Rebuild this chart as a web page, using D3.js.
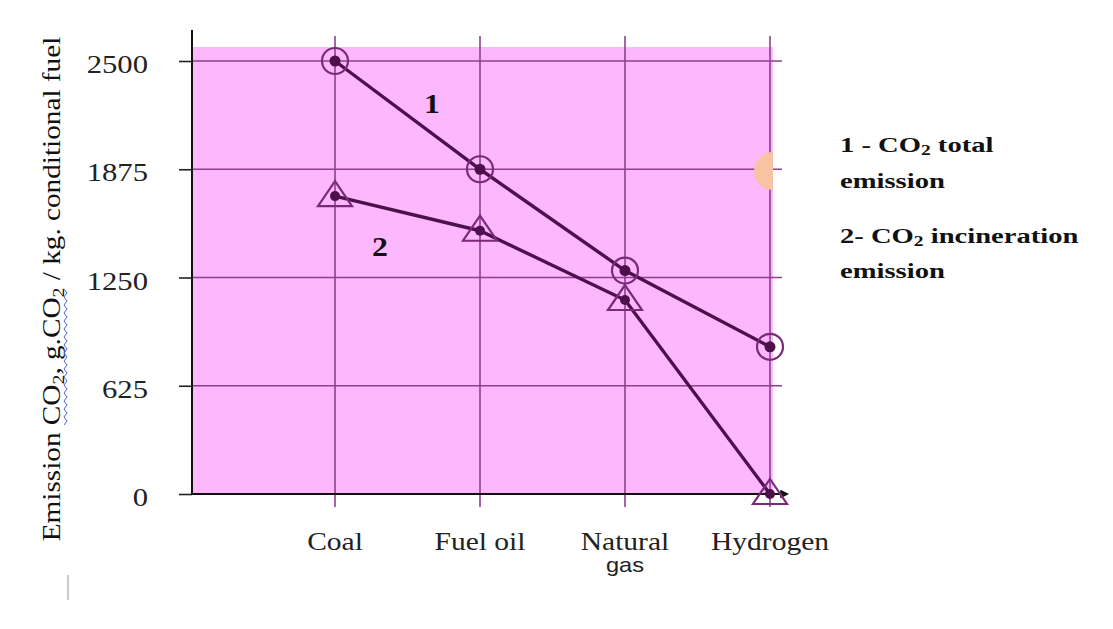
<!DOCTYPE html>
<html><head><meta charset="utf-8">
<script src="https://cdn.jsdelivr.net/npm/d3@7"></script>
<style>body{margin:0;background:#fff}svg{display:block}</style>
</head><body>
<svg id="c" width="1113" height="629"></svg>
<script>
const categories = ["Coal", "Fuel oil", "Natural gas", "Hydrogen"];
const totalEmission = [2500, 1875, 1290, 850];
const incinerationEmission = [1720, 1520, 1120, 0];
const yTicks = [0, 625, 1250, 1875, 2500];

const svg = d3.select("#c");
const serif = "'Liberation Serif', 'DejaVu Serif', serif";
const x = d3.scalePoint().domain(categories).range([335, 770]);
const y = d3.scaleLinear().domain([0, 2500]).range([494, 61]);

const gridCol = "#8e3f8e", lineCol = "#4e104c", markCol = "#7a2a78";
const SX = 1.18;

// pink plot area
svg.append("rect").attr("x", 192).attr("y", 47).attr("width", 581).attr("height", y(0) - 47).attr("fill", "#fdb7fd");

// horizontal grid
svg.append("g").selectAll("line").data(yTicks.filter(d => d > 0)).join("line")
  .attr("x1", 192).attr("x2", 782).attr("y1", d => y(d)).attr("y2", d => y(d))
  .attr("stroke", gridCol).attr("stroke-width", 1.6);
// vertical grid
svg.append("g").selectAll("line").data(categories).join("line")
  .attr("x1", d => x(d)).attr("x2", d => x(d)).attr("y1", 36).attr("y2", 507)
  .attr("stroke", gridCol).attr("stroke-width", 1.6);

// y axis
const yAxis = d3.axisLeft(y).tickValues(yTicks).tickSize(13).tickFormat(d3.format("d"));
const gy = svg.append("g").attr("transform", "translate(192,0)").call(yAxis);
gy.select(".domain").attr("d", "M0,30V494").attr("stroke", "#111").attr("stroke-width", 2);
gy.selectAll(".tick line").attr("stroke", "#222").attr("stroke-width", 1.6);
gy.selectAll(".tick text").attr("x", 0).attr("dy", "0.45em")
  .attr("transform", `translate(-44,0) scale(${SX},1)`)
  .attr("font-family", serif).attr("font-size", 26).attr("fill", "#222");

// x axis line with arrow
svg.append("defs").append("marker").attr("id", "arr").attr("viewBox", "0 0 10 10").attr("refX", 2).attr("refY", 5)
  .attr("markerWidth", 4).attr("markerHeight", 4).attr("orient", "auto")
  .append("path").attr("d", "M0,0L10,5L0,10z").attr("fill", "#111");
svg.append("line").attr("x1", 191).attr("x2", 782).attr("y1", y(0)).attr("y2", y(0))
  .attr("stroke", "#111").attr("stroke-width", 2.2).attr("marker-end", "url(#arr)");

// x labels
svg.append("g").selectAll("text").data(categories).join("text")
  .attr("transform", d => `translate(${x(d)},550) scale(${SX},1)`).attr("text-anchor", "middle")
  .attr("font-family", serif).attr("font-size", 25).attr("fill", "#222")
  .each(function(d) {
    const parts = d === "Natural gas" ? ["Natural", "gas"] : [d];
    d3.select(this).selectAll("tspan").data(parts).join("tspan")
      .attr("x", 0).attr("dy", (p, i) => i ? 22 : 0)
      .attr("font-family", (p, i) => i ? "'Liberation Sans', sans-serif" : serif)
      .attr("font-size", (p, i) => i ? 20 : 25).text(p => p);
  });

// lines
const line = d3.line().x((d, i) => x(categories[i])).y(d => y(d));
svg.append("path").attr("d", line(totalEmission)).attr("fill", "none").attr("stroke", lineCol).attr("stroke-width", 3.4);
svg.append("path").attr("d", line(incinerationEmission)).attr("fill", "none").attr("stroke", lineCol).attr("stroke-width", 3.4);

// markers series 1: circles
const m1 = svg.append("g").selectAll("g").data(totalEmission).join("g")
  .attr("transform", (d, i) => `translate(${x(categories[i])},${y(d)})`);
m1.append("circle").attr("r", 13).attr("fill", "none").attr("stroke", markCol).attr("stroke-width", 2.2);
m1.append("circle").attr("r", 5.5).attr("fill", lineCol);

// markers series 2: triangles
const m2 = svg.append("g").selectAll("g").data(incinerationEmission).join("g")
  .attr("transform", (d, i) => `translate(${x(categories[i])},${y(d)})`);
m2.append("path").attr("d", "M0,-15L17,10H-17Z").attr("fill", "none").attr("stroke", markCol).attr("stroke-width", 2.2);
m2.append("circle").attr("r", 5).attr("fill", lineCol);

// series labels
svg.append("text").attr("transform", `translate(432,113) scale(${SX},1)`).attr("text-anchor", "middle").attr("font-family", serif)
  .attr("font-weight", "bold").attr("font-size", 27).attr("fill", "#111").text("1");
svg.append("text").attr("transform", `translate(380,256) scale(${SX},1)`).attr("text-anchor", "middle").attr("font-family", serif)
  .attr("font-weight", "bold").attr("font-size", 27).attr("fill", "#111").text("2");

// peach half-disc
svg.append("path").attr("d", "M773,152A19,19 0 0 0 773,190Z").attr("fill", "#f7c3a3");

// legend
const leg = svg.append("g").attr("font-family", serif).attr("font-weight", "bold").attr("font-size", 22).attr("fill", "#111");
function legLine(yy, parts) {
  const t = leg.append("text").attr("transform", `translate(840,${yy}) scale(1.3,1)`);
  parts.forEach(p => {
    const s = t.append("tspan").text(p.t);
    if (p.sub) s.attr("font-size", 15).attr("dy", 3); else if (p.after) s.attr("dy", -3);
  });
}
legLine(152, [{t: "1 - CO"}, {t: "2", sub: true}, {t: " total", after: true}]);
legLine(188, [{t: "emission"}]);
legLine(243, [{t: "2- CO"}, {t: "2", sub: true}, {t: " incineration", after: true}]);
legLine(278, [{t: "emission"}]);

// y title
const yt = svg.append("text").attr("transform", "translate(60,289) rotate(-90) scale(1.17,1)").attr("text-anchor", "middle")
  .attr("font-family", serif).attr("font-size", 25).attr("fill", "#111");
yt.append("tspan").text("Emission CO");
yt.append("tspan").text("2").attr("font-size", 17).attr("dy", 4);
yt.append("tspan").text(", g.CO").attr("dy", -4);
yt.append("tspan").text("2").attr("font-size", 17).attr("dy", 4);
yt.append("tspan").text(" / kg. conditional fuel").attr("dy", -4);

// blue spell-check squiggle
let zz = "M64,425";
for (let k = 0; k < 34; k++) zz += `L${k % 2 ? 64 : 67},${425 - (k + 1) * 4}`;
svg.append("path").attr("d", zz).attr("fill", "none").attr("stroke", "#5563d8").attr("stroke-width", 1);

// small grey cursor mark
svg.append("line").attr("x1", 68).attr("x2", 68).attr("y1", 575).attr("y2", 600).attr("stroke", "#bbb").attr("stroke-width", 1.5);
</script>
</body></html>
